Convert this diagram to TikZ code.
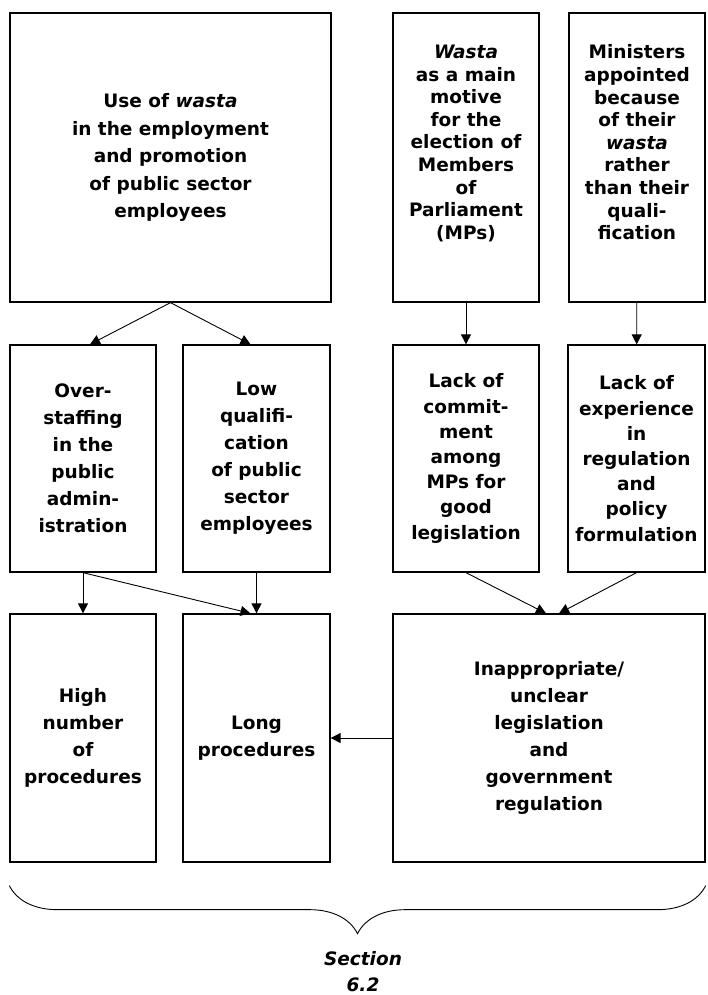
\documentclass[tikz,border=0pt]{standalone}
\usepackage{fontspec}
\setmainfont{DejaVu Sans}
\usepackage{tikz}
\usetikzlibrary{arrows.meta,positioning,decorations.pathreplacing}
\tikzset{
  % Grundkasten
  box/.style={
    draw=black,
    line width=1.3pt,
    align=center,
    font=\bfseries\fontsize{18.5}{27}\selectfont
  },
  % engerer Zeilenabstand
  tight/.style={font=\bfseries\fontsize{18.5}{22.6}\selectfont},
  mid/.style={font=\bfseries\fontsize{18.5}{25.2}\selectfont},
  % Pfeile
  arr/.style={-{Triangle[length=10pt,width=10pt]}, line width=0.9pt},
}

\begin{document}
\begin{tikzpicture}[x=1pt, y=-1pt]
        \useasboundingbox (0,0) rectangle (707,995);

        % Ursachen
        \node[box, font=\bfseries\fontsize{18.5}{27.5}\selectfont, minimum width=321, minimum height=289] (use) at (170.5,157.5)
          {Use of \textit{wasta}\\in the employment\\and promotion\\of public sector\\employees};
        \node[box, tight, minimum width=146, minimum height=289] (wastamp) at (466,157.5)
          {\textit{Wasta}\\as a main\\motive\\for the\\election of\\Members\\of\\Parliament\\(MPs)\\[8pt]\mbox{}};
        \node[box, tight, minimum width=136, minimum height=289] (ministers) at (637,157.5)
          {Ministers\\appointed\\because\\of their\\\textit{wasta}\\rather\\than their\\quali-\\fication\\[8pt]\mbox{}};

        % Folgen
        \node[box, minimum width=146, minimum height=227] (overstaff) at (83,458.5)
          {Over-\\staffing\\in the\\public\\admin-\\istration};
        \node[box, minimum width=147, minimum height=227] (lowqual) at (256.5,458.5)
          {Low\\qualifi-\\cation\\of public\\sector\\employees};
        \node[box, mid, minimum width=146, minimum height=227] (commit) at (466,458.5)
          {Lack of\\commit-\\ment\\among\\MPs for\\good\\legislation};
        \node[box, mid, minimum width=137, minimum height=227] (experience) at (636.5,458.5)
          {Lack of\\experience\\in\\regulation\\and\\policy\\formulation};

        % Ergebnisse
        \node[box, minimum width=146, minimum height=248] (highnum) at (83,738)
          {High\\number\\of\\procedures};
        \node[box, minimum width=147, minimum height=248] (longproc) at (256.5,738)
          {Long\\procedures};
        \node[box, minimum width=312, minimum height=248] (inapprop) at (549,738)
          {Inappropriate/\\unclear\\legislation\\and\\government\\regulation};

        % Pfeile
        \draw[arr] (use.south) -- ([xshift=7]overstaff.north);
        \draw[arr] (use.south) -- ([xshift=-6]lowqual.north);
        \draw[arr] (wastamp) -- (commit);
        \draw[arr] (ministers) -- (experience);
        \draw[arr] (overstaff) -- (highnum);
        \draw[arr] (overstaff.south) -- ([xshift=-6]longproc.north);
        \draw[arr] (lowqual) -- (longproc);
        \draw[arr] (commit.south) -- ([xshift=-3]inapprop.north);
        \draw[arr] (experience.south) -- ([xshift=10]inapprop.north);
        \draw[arr] (inapprop) -- (longproc);

        % Klammer
        \draw[line width=0.9pt, decorate, decoration={brace, mirror, amplitude=48}]
          ([yshift=-23]highnum.south west) -- ([yshift=-23]inapprop.south east);
        \node[font=\bfseries\itshape\fontsize{18.5}{26}\selectfont, align=center] (section) at (363,972)
          {Section\\6.2};
    \end{tikzpicture}
\end{document}
